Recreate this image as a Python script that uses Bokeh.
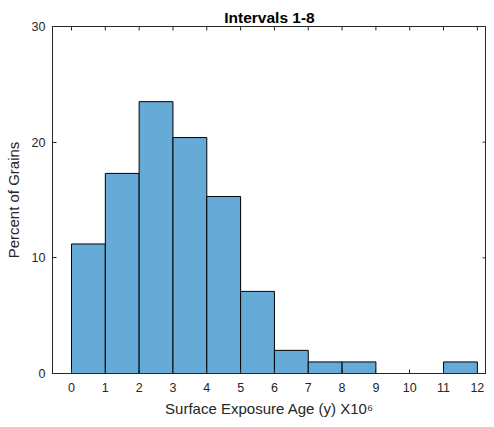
from bokeh.plotting import figure
from bokeh.models import FixedTicker, Range1d
from bokeh.embed import file_html
from bokeh.resources import INLINE

# Histogram data (percent of grains per 1 Myr bin)
bin_edges = [0, 1, 2, 3, 4, 5, 6, 7, 8, 9, 10, 11, 12]
percent = [11.2, 17.3, 23.5, 20.4, 15.3, 7.1, 2.0, 1.0, 1.0, 0.0, 0.0, 1.0]
x_ticks = [0, 1, 2, 3, 4, 5, 6, 7, 8, 9, 10, 11, 12]
y_ticks = [0, 10, 20, 30]

title_text = "Intervals 1-8"
x_label = "Surface Exposure Age (y) X10\u2076"
y_label = "Percent of Grains"

FONT = "Liberation Sans"
AX = "#262626"
X0, X1 = -0.5616, 12.27
Y0, Y1 = 0, 30

p = figure(width=486, height=419, output_backend="svg", toolbar_location=None,
           x_range=Range1d(X0, X1), y_range=Range1d(Y0, Y1),
           min_border_left=52, min_border_right=0, min_border_top=26, min_border_bottom=46,
           title=title_text)
p.title.align = "center"
p.title.text_font = FONT
p.title.text_font_size = "15.5px"
p.title.text_font_style = "bold"
p.title.text_color = "#000000"
p.title.standoff = 2

p.quad(left=bin_edges[:-1], right=bin_edges[1:], bottom=0, top=percent,
       fill_color="#66AAD7", line_color="#000000", line_width=1)

# inward ticks on the top and right box edges (half of each dash is clipped)
p.scatter(x=x_ticks, y=[Y1] * len(x_ticks), marker="dash", angle=1.5708,
          size=8, line_color=AX, line_width=1)
p.scatter(x=[X1] * len(y_ticks), y=y_ticks, marker="dash",
          size=8, line_color=AX, line_width=1)

p.grid.visible = False
p.outline_line_color = AX
p.outline_line_width = 1
p.background_fill_color = "white"
p.border_fill_color = "white"

for ax in [p.xaxis[0], p.yaxis[0]]:
    ax.axis_line_color = AX
    ax.major_tick_line_color = AX
    ax.major_tick_in = 4
    ax.major_tick_out = 0
    ax.minor_tick_line_color = None
    ax.major_label_text_font = FONT
    ax.major_label_text_font_size = "12.5px"
    ax.major_label_text_color = AX
    ax.axis_label_text_font = FONT
    ax.axis_label_text_font_size = "15px"
    ax.axis_label_text_color = AX
    ax.axis_label_text_font_style = "normal"

p.xaxis[0].ticker = FixedTicker(ticks=x_ticks)
p.yaxis[0].ticker = FixedTicker(ticks=y_ticks)
p.xaxis[0].axis_label = x_label
p.yaxis[0].axis_label = y_label
p.xaxis[0].major_label_standoff = 9
p.xaxis[0].axis_label_standoff = 5
p.yaxis[0].major_label_standoff = 7
p.yaxis[0].axis_label_standoff = 7

open("out.html", "w").write(file_html(p, INLINE))
